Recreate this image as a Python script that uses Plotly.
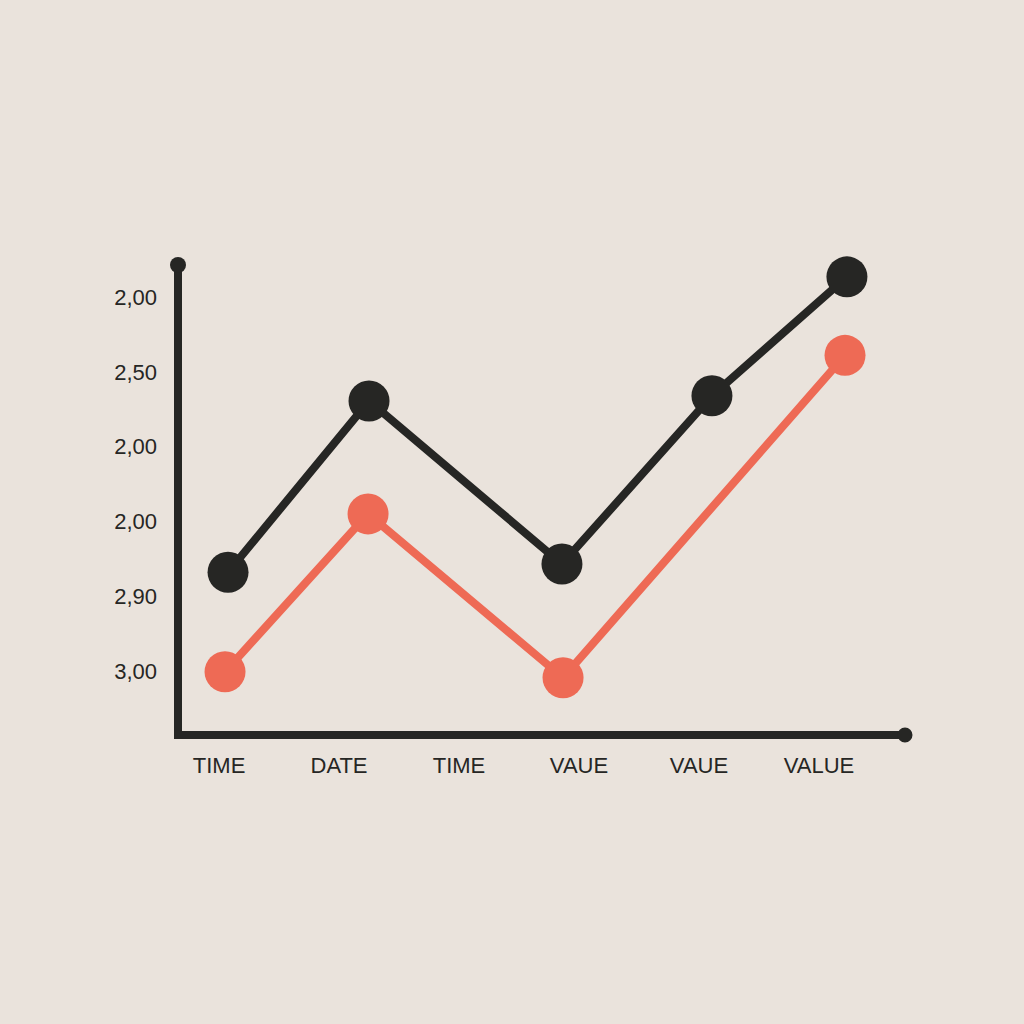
import plotly.graph_objects as go

# Category tick labels (x) and value tick labels (y), as printed on the chart
x_labels = ["TIME", "DATE", "TIME", "VAUE", "VAUE", "VALUE"]
x_tick_pos = [0, 1, 2, 3, 4, 5]
y_labels = ["3,00", "2,90", "2,00", "2,00", "2,50", "2,00"]
y_tick_pos = [0, 1, 2, 3, 4, 5]

# Series values (x in label units, y in tick units)
black_x = [0.075, 1.25, 2.858, 4.108, 5.233]
black_y = [1.32, 3.61, 1.43, 3.68, 5.27]
red_x = [0.05, 1.242, 2.867, 5.217]
red_y = [-0.01, 2.10, -0.09, 4.22]

X_RANGE = [-0.342, 5.717]
Y_RANGE = [-0.856, 5.428]

BG = "#EAE3DC"
INK = "#262624"
RED = "#EE6A55"
FONT = "Liberation Sans"

fig = go.Figure()

fig.add_trace(go.Scatter(
    x=red_x, y=red_y, mode="lines+markers",
    line=dict(color=RED, width=8),
    marker=dict(size=41, color=RED),
    cliponaxis=False, showlegend=False,
))
fig.add_trace(go.Scatter(
    x=black_x, y=black_y, mode="lines+markers",
    line=dict(color=INK, width=8),
    marker=dict(size=41, color=INK),
    cliponaxis=False, showlegend=False,
))

# Axis frame (L shape) and round end dots, drawn along the plot-area edges
fig.add_shape(type="path", xref="paper", yref="paper",
              path="M 0,1 L 0,0 L 1,0", line=dict(color=INK, width=8),
              layer="above")
fig.add_shape(type="circle", xref="paper", yref="paper",
              xsizemode="pixel", ysizemode="pixel", xanchor=0, yanchor=1,
              x0=-8, x1=8, y0=-8, y1=8, fillcolor=INK, line=dict(width=0))
fig.add_shape(type="circle", xref="paper", yref="paper",
              xsizemode="pixel", ysizemode="pixel", xanchor=1, yanchor=0,
              x0=-7.5, x1=7.5, y0=-7.5, y1=7.5, fillcolor=INK, line=dict(width=0))

fig.update_layout(
    width=1024, height=1024,
    paper_bgcolor=BG, plot_bgcolor=BG,
    margin=dict(l=178, r=119, t=265, b=289),
    font=dict(family=FONT, color=INK, size=22),
    xaxis=dict(range=X_RANGE, showgrid=False, zeroline=False, showline=False,
               tickvals=x_tick_pos, ticktext=x_labels, ticks="",
               ticklabelstandoff=15, tickfont=dict(size=22, family=FONT, color=INK)),
    yaxis=dict(range=Y_RANGE, showgrid=False, zeroline=False, showline=False,
               tickvals=y_tick_pos, ticktext=y_labels, ticks="",
               ticklabelstandoff=20, tickfont=dict(size=22, family=FONT, color=INK)),
)

fig.write_html(
    "out.html",
    config={"displayModeBar": False},
    post_script="document.body.style.margin='0';document.body.style.background='#EAE3DC';",
)
